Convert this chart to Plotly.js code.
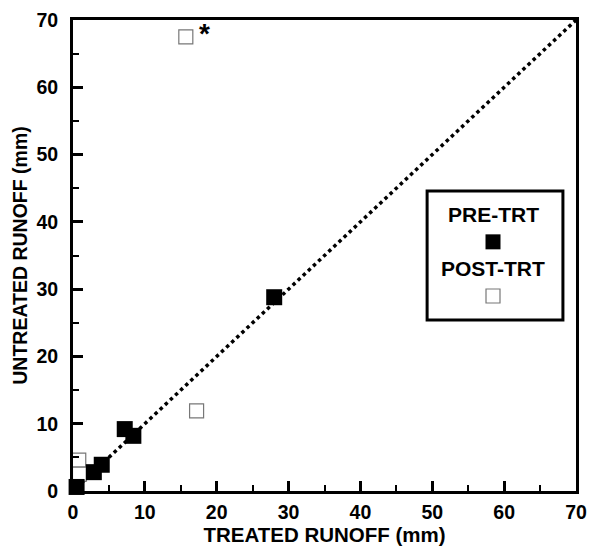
<!DOCTYPE html>
<html>
<head>
<meta charset="utf-8">
<script src="https://cdn.plot.ly/plotly-3.0.1.min.js"></script>
<style>html,body{margin:0;padding:0;background:#fff;}#chart{width:589px;height:546px;}</style>
</head>
<body>
<div id="chart"></div>
<script>
// Data
const preTreated   = [0.5, 2.9, 4.0, 7.2, 8.4, 28.0];
const preUntreated = [0.6, 2.8, 3.9, 9.2, 8.2, 28.8];
const postTreated   = [0.8, 0.9, 17.2, 15.7];
const postUntreated = [4.6, 2.5, 11.9, 67.5];
const lineX = [0, 70];
const lineY = [0, 70];
const starPoint = {x: 15.7, y: 67.5};
const xTitle = "TREATED RUNOFF (mm)";
const yTitle = "UNTREATED RUNOFF (mm)";
const legendLabels = ["PRE-TRT", "POST-TRT"];

const font = {family: "Liberation Sans, Arial, sans-serif", color: "#000"};

const traces = [
  {x: lineX, y: lineY, mode: "lines", line: {color: "#000", width: 3.5, dash: "dot"}, hoverinfo: "skip", showlegend: false, cliponaxis: false},
  {x: postTreated, y: postUntreated, mode: "markers", showlegend: false, cliponaxis: false,
   marker: {symbol: "square", size: 14, color: "#fff", line: {color: "#777", width: 1.2}}},
  {x: preTreated, y: preUntreated, mode: "markers", showlegend: false, cliponaxis: false,
   marker: {symbol: "square", size: 16, color: "#000", line: {color: "#000", width: 0}}}
];

const axisCommon = {
  range: [0, 70], dtick: 10, tick0: 0, showgrid: false, zeroline: false,
  showline: true, linewidth: 3, linecolor: "#000", mirror: true,
  ticks: "inside", ticklen: 10, tickwidth: 3, tickcolor: "#000",
  minor: {dtick: 5, ticks: "inside", ticklen: 6, tickwidth: 2, tickcolor: "#000", showgrid: false},
  tickprefix: "<b>", ticksuffix: "</b>",
  tickfont: Object.assign({size: 19.5}, font),
  fixedrange: true
};

const layout = {
  width: 589, height: 546,
  margin: {l: 73, r: 13, t: 20, b: 55},
  paper_bgcolor: "#fff", plot_bgcolor: "#fff",
  font: font,
  showlegend: false,
  xaxis: Object.assign({}, axisCommon, {
    ticklabelstandoff: 2,
    title: {text: "<b>" + xTitle + "</b>", font: Object.assign({size: 20.5}, font), standoff: 3}
  }),
  yaxis: Object.assign({}, axisCommon, {
    ticklabelstandoff: 8,
    title: {text: "<b>" + yTitle + "</b>", font: Object.assign({size: 19.5}, font), standoff: 4}
  }),
  shapes: [
    {type: "rect", xref: "paper", yref: "paper", x0: 0.704, x1: 0.974, y0: 0.363, y1: 0.637,
     line: {color: "#000", width: 3}, fillcolor: "#fff", layer: "above"},
    {type: "rect", xref: "paper", yref: "paper", xsizemode: "pixel", ysizemode: "pixel",
     xanchor: 0.835, yanchor: 0.529, x0: -7.5, x1: 7.5, y0: -7.5, y1: 7.5,
     fillcolor: "#000", line: {width: 0}, layer: "above"},
    {type: "rect", xref: "paper", yref: "paper", xsizemode: "pixel", ysizemode: "pixel",
     xanchor: 0.835, yanchor: 0.414, x0: -7, x1: 7, y0: -7, y1: 7,
     fillcolor: "#fff", line: {color: "#777", width: 1.2}, layer: "above"}
  ],
  annotations: [
    {xref: "paper", yref: "paper", x: 0.835, y: 0.586, text: "<b>" + legendLabels[0] + "</b>",
     showarrow: false, font: Object.assign({size: 21}, font), xanchor: "center", yanchor: "middle"},
    {xref: "paper", yref: "paper", x: 0.835, y: 0.473, text: "<b>" + legendLabels[1] + "</b>",
     showarrow: false, font: Object.assign({size: 21}, font), xanchor: "center", yanchor: "middle"},
    {x: starPoint.x, y: starPoint.y, text: "<b>*</b>", showarrow: false, xshift: 19, yshift: 3,
     font: Object.assign({size: 28}, font), xanchor: "center", yanchor: "middle"}
  ]
};

Plotly.newPlot("chart", traces, layout, {displayModeBar: false, staticPlot: true});
</script>
</body>
</html>
